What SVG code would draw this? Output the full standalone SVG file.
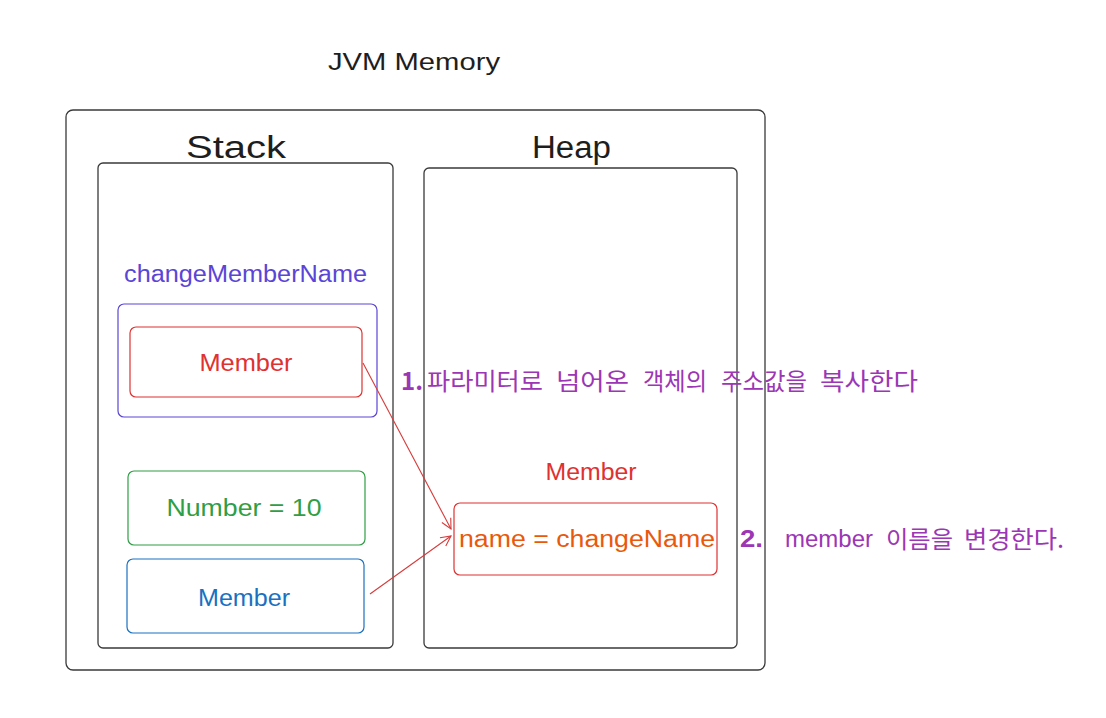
<svg xmlns="http://www.w3.org/2000/svg" width="1106" height="718" viewBox="0 0 1106 718">
  <style>
    .hand { font-family: "Liberation Sans", "Noto Sans", sans-serif; }
    .kr { font-family: "Noto Sans CJK KR", "Noto Sans", sans-serif; fill: #9c36b5; font-size: 24px; }
    .box { fill: none; stroke-width: 1.2; }
    .frame { fill: none; stroke: #3a3a3a; stroke-width: 1.3; }
    .conn { fill: none; stroke: #d63b3b; stroke-width: 1.1; }
  </style>
  <defs>
    <marker id="arrow" viewBox="0 0 12 12" refX="11" refY="6" markerWidth="12" markerHeight="12" markerUnits="userSpaceOnUse" orient="auto">
      <path d="M1,1 L11,6 L1,11" fill="none" stroke="#d63b3b" stroke-width="1.1"/>
    </marker>
  </defs>
  <rect width="1106" height="718" fill="#ffffff"/>

  <g id="title">
    <text class="hand" x="328" y="70" font-size="23" fill="#1e1e1e" textLength="172" lengthAdjust="spacingAndGlyphs">JVM Memory</text>
  </g>

  <g id="jvm-memory">
    <rect class="frame" x="66" y="110" width="699" height="560" rx="7"/>
  </g>

  <g id="stack">
    <text class="hand" x="186" y="158" font-size="31" fill="#1e1e1e" textLength="100" lengthAdjust="spacingAndGlyphs">Stack</text>
    <rect class="frame" x="98" y="163" width="295" height="485" rx="5"/>
  </g>

  <g id="heap">
    <text class="hand" x="532" y="158" font-size="31" fill="#1e1e1e" textLength="79" lengthAdjust="spacingAndGlyphs">Heap</text>
    <rect class="frame" x="424" y="168" width="313" height="480" rx="5"/>
  </g>

  <g id="change-member-name">
    <text class="hand" x="124" y="282" font-size="23" fill="#5b45d6" textLength="243" lengthAdjust="spacingAndGlyphs">changeMemberName</text>
    <rect class="box" x="118" y="304" width="259" height="113" rx="6" stroke="#5b45d6"/>
  </g>

  <g id="param-member">
    <rect class="box" x="130" y="327" width="232" height="70" rx="6" stroke="#e03131"/>
    <text class="hand" x="246" y="371" font-size="23" fill="#e03131" text-anchor="middle" textLength="93" lengthAdjust="spacingAndGlyphs">Member</text>
  </g>

  <g id="number">
    <rect class="box" x="128" y="471" width="237" height="74" rx="6" stroke="#2f9e44"/>
    <text class="hand" x="244" y="516" font-size="23" fill="#2f9e44" text-anchor="middle" textLength="155" lengthAdjust="spacingAndGlyphs">Number = 10</text>
  </g>

  <g id="local-member">
    <rect class="box" x="127" y="559" width="237" height="74" rx="6" stroke="#1971c2"/>
    <text class="hand" x="244" y="606" font-size="23" fill="#1971c2" text-anchor="middle" textLength="92" lengthAdjust="spacingAndGlyphs">Member</text>
  </g>

  <g id="heap-member">
    <text class="hand" x="591" y="480" font-size="23" fill="#e03131" text-anchor="middle" textLength="91" lengthAdjust="spacingAndGlyphs">Member</text>
    <rect class="box" x="454" y="503" width="263" height="72" rx="6" stroke="#e03131"/>
    <text class="hand" x="587" y="547" font-size="23" fill="#e8590c" text-anchor="middle" textLength="256" lengthAdjust="spacingAndGlyphs">name = changeName</text>
  </g>

  <g id="connectors">
    <line class="conn" x1="363" y1="363" x2="451" y2="529" marker-end="url(#arrow)"/>
    <line class="conn" x1="370" y1="594" x2="451" y2="536" marker-end="url(#arrow)"/>
  </g>

  <g id="note-1">
    <text class="kr" x="401" y="390" font-weight="bold" font-size="23">1.</text>
    <text class="kr" x="427" y="390" textLength="116" lengthAdjust="spacingAndGlyphs">파라미터로</text>
    <text class="kr" x="556" y="390" textLength="73" lengthAdjust="spacingAndGlyphs">넘어온</text>
    <text class="kr" x="643" y="390" textLength="64" lengthAdjust="spacingAndGlyphs">객체의</text>
    <text class="kr" x="721" y="390" textLength="86" lengthAdjust="spacingAndGlyphs">주소값을</text>
    <text class="kr" x="820" y="390" textLength="98" lengthAdjust="spacingAndGlyphs">복사한다</text>
  </g>

  <g id="note-2">
    <text class="hand" x="740" y="547" font-size="23" fill="#9c36b5" font-weight="bold" textLength="23" lengthAdjust="spacingAndGlyphs">2.</text>
    <text class="hand" x="785" y="547" font-size="23" fill="#9c36b5" textLength="88" lengthAdjust="spacingAndGlyphs">member</text>
    <text class="kr" x="886" y="548" textLength="67" lengthAdjust="spacingAndGlyphs">이름을</text>
    <text class="kr" x="964" y="548" textLength="100" lengthAdjust="spacingAndGlyphs">변경한다.</text>
  </g>
</svg>
